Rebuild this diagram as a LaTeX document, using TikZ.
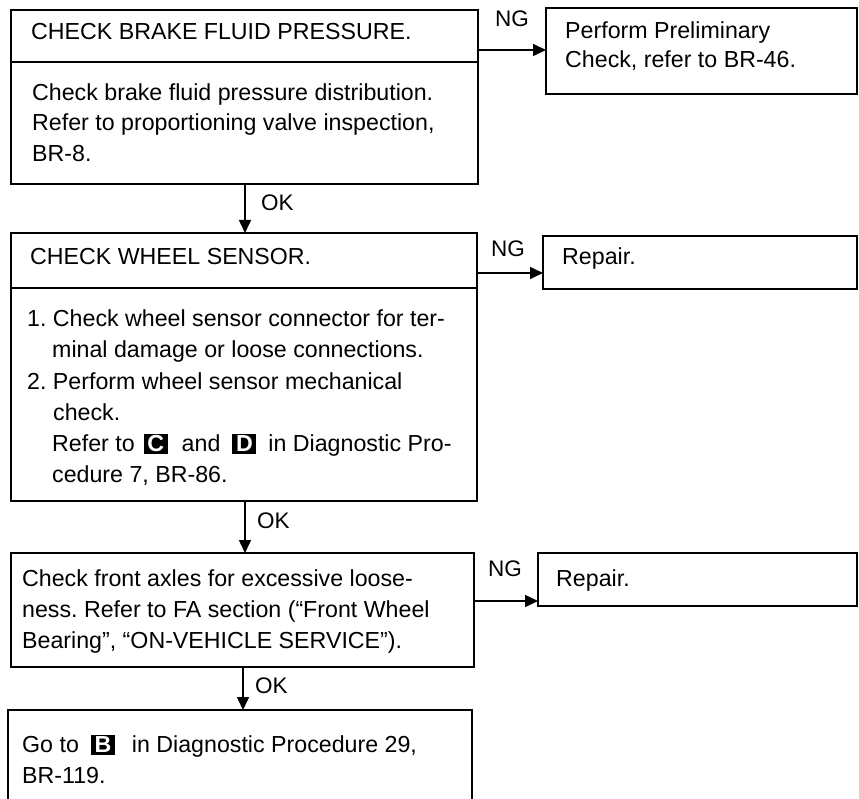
\documentclass[tikz,border=0pt]{standalone}
\usepackage{fontspec}
\setmainfont{Liberation Sans}
\usetikzlibrary{arrows.meta}
\frenchspacing
\newcommand\blkletter[1]{{\setlength\fboxsep{0pt}\colorbox{black}{\makebox[24pt]{\rule[-3pt]{0pt}{20pt}\textcolor{white}{\textbf{#1}}}}}}
\tikzset{
  box/.style={draw, line width=1.6pt, anchor=north west, inner sep=0, outer sep=0},
  txt/.style={anchor=base west, inner sep=0, font=\fontsize{23.2}{30}\selectfont},
  lbl/.style={anchor=base west, inner sep=0, font=\fontsize{22.5}{26}\selectfont},
  arr/.style={line width=1.6pt, -{Triangle[length=13pt,width=12pt]}},
  div/.style={line width=1.6pt}
}
\begin{document}
\begin{tikzpicture}[x=1pt,y=-1pt]
\useasboundingbox (0,0) rectangle (859,799);
\begin{scope}
\clip (0,0) rectangle (859,799);
% boxes
\node[box, minimum width=467pt, minimum height=174pt] (b1) at (11,10) {};
\node[box, minimum width=311pt, minimum height=86pt] (r1) at (546,8) {};
\node[box, minimum width=466pt, minimum height=268pt] (b2) at (11,233) {};
\node[box, minimum width=314pt, minimum height=53pt] (r2) at (543,236) {};
\node[box, minimum width=463pt, minimum height=114pt] (b3) at (11,553) {};
\node[box, minimum width=319pt, minimum height=53pt] (r3) at (538,553) {};
\node[box, minimum width=464pt, minimum height=110pt] (b4) at (8,710) {};
\end{scope}
% dividers
\draw[div] (b1.west |- 0,62) -- (b1.east |- 0,62);
\draw[div] (b2.west |- 0,288) -- (b2.east |- 0,288);
% texts box 1
\node[txt] (t1) at (31,40) {CHECK BRAKE FLUID PRESSURE.};
\node[txt] (t1a) at (32,101) {Check brake fluid pressure distribution.};
\node[txt] (t1b) at (32,131) {Refer to proportioning valve inspection,};
\node[txt] (t1c) at (32,162) {BR-8.};
\node[txt] (u1a) at (565,39) {Perform Preliminary};
\node[txt] (u1b) at (565,68) {Check, refer to BR-46.};
% texts box 2
\node[txt] (t2) at (30,265) {CHECK WHEEL SENSOR.};
\node[txt] (t2a) at (27,327) {1. Check wheel sensor connector for ter-};
\node[txt] (t2b) at (52,358) {minal damage or loose connections.};
\node[txt] (t2c) at (27,389) {2. Perform wheel sensor mechanical};
\node[txt] (t2d) at (53,420) {check.};
\node[txt] (t2e) at (52,451) {Refer to\hspace{9pt}\blkletter{C}\hspace{14pt}and\hspace{12pt}\blkletter{D}\hspace{12pt}in Diagnostic Pro-};
\node[txt] (t2f) at (52,482) {cedure 7, BR-86.};
\node[txt] (u2) at (562,265) {Repair.};
% texts box 3
\node[txt] (t3a) at (22,586) {Check front axles for excessive loose-};
\node[txt] (t3b) at (22,617) {ness. Refer to FA section (“Front Wheel};
\node[txt] (t3c) at (22,648) {Bearing”, “ON-VEHICLE SERVICE”).};
\node[txt] (u3) at (556,586) {Repair.};
% texts box 4
\node[txt] (t4a) at (22,752) {Go to\hspace{12pt}\blkletter{B}\hspace{17pt}in Diagnostic Procedure 29,};
\node[txt] (t4b) at (22,783) {BR-119.};
% arrows
\draw[arr] (b1.east |- 0,50) -- (r1.west |- 0,50);
\draw[arr] (b2.east |- 0,273) -- (r2.west |- 0,273);
\draw[arr] (b3.east |- 0,601) -- (r3.west |- 0,601);
\draw[arr] (245,0 |- b1.south) -- (245,0 |- b2.north);
\draw[arr] (245,0 |- b2.south) -- (245,0 |- b3.north);
\draw[arr] (243,0 |- b3.south) -- (243,0 |- b4.north);
% labels
\node[lbl] (ng1) at (495,27) {NG};
\node[lbl] (ng2) at (491,257) {NG};
\node[lbl] (ng3) at (488,576) {NG};
\node[lbl] (ok1) at (261,211) {OK};
\node[lbl] (ok2) at (257,528) {OK};
\node[lbl] (ok3) at (255,693) {OK};
\end{tikzpicture}
\end{document}
